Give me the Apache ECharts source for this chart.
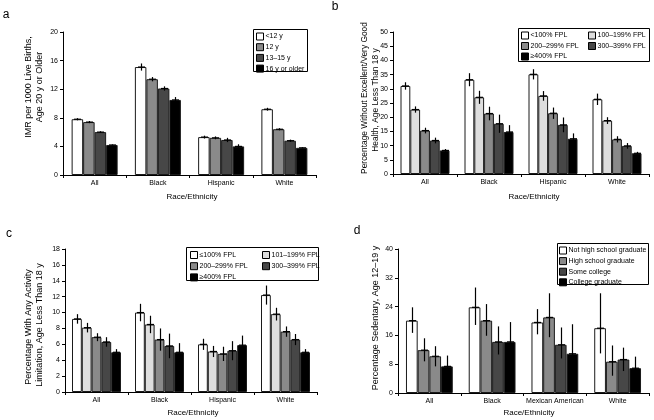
<!DOCTYPE html>
<html><head><meta charset="utf-8">
<script src="https://cdn.jsdelivr.net/npm/echarts@6/dist/echarts.min.js"></script>
<style>html,body{margin:0;padding:0;background:#fff}#c{width:654px;height:420px}</style>
</head><body><div id="c"></div>
<script>
// ---------- Panel a ----------
const catsA = ['All','Black','Hispanic','White'];
const namesA = ['<12 y','12 y','13–15 y','16 y or older'];
const valA = [[7.8,15.1,5.3,9.2],[7.4,13.4,5.2,6.4],[6.0,12.1,4.9,4.8],[4.2,10.5,4.0,3.8]];
const errA = [[0.15,0.5,0.2,0.2],[0.15,0.3,0.2,0.15],[0.12,0.3,0.3,0.15],[0.08,0.4,0.3,0.08]];
// ---------- Panel b ----------
const catsB = ['All','Black','Hispanic','White'];
const namesB = ['<100% FPL','100–199% FPL','200–299% FPL','300–399% FPL','≥400% FPL'];
const valB = [[31.0,33.2,35.1,26.3],[22.7,27.0,27.5,18.8],[15.3,21.3,21.4,12.2],[11.8,17.7,17.3,9.9],[8.3,14.8,12.4,7.3]];
const errB = [[1.3,2.3,1.8,2.0],[1.1,2.3,1.7,1.2],[1.0,2.4,2.0,1.1],[1.0,3.2,2.6,1.0],[0.5,2.4,1.9,0.5]];
// ---------- Panel c ----------
const catsC = ['All','Black','Hispanic','White'];
const namesC = ['≤100% FPL','101–199% FPL','200–299% FPL','300–399% FPL','≥400% FPL'];
const valC = [[9.2,10.0,6.0,12.2],[8.1,8.5,5.1,9.8],[6.9,6.6,4.8,7.6],[6.3,5.8,5.2,6.6],[5.0,5.0,5.9,5.0]];
const errC = [[0.6,1.1,0.7,1.2],[0.6,1.1,0.7,0.8],[0.5,1.4,0.9,0.65],[0.6,1.55,1.2,0.7],[0.4,1.15,1.2,0.4]];
// ---------- Panel d ----------
const catsD = ['All','Black','Mexican American','White'];
const namesD = ['Not high school graduate','High school graduate','Some college','College graduate'];
const valD = [[20.1,23.8,19.6,18.0],[11.9,20.1,21.0,8.7],[10.2,14.2,13.4,9.3],[7.4,14.2,10.9,6.9]];
const lowD = [[16.7,18.9,16.3,11.0],[8.8,15.9,15.5,4.8],[7.4,10.7,9.6,6.1],[4.4,9.7,5.4,3.7]];
const highD = [[23.8,29.3,23.3,27.7],[15.2,24.7,27.7,13.2],[13.0,18.5,18.2,12.6],[10.4,19.7,19.1,10.1]];

const FF = "'Liberation Sans', Arial, sans-serif";
const C4 = ['#ffffff','#8a8a8a','#474747','#000000'];
const C5 = ['#ffffff','#dedede','#8a8a8a','#474747','#000000'];

const panels = [
  {cats:catsA, names:namesA, colors:C4, vals:valA,
   lows:valA.map((r,i)=>r.map((v,j)=>v-errA[i][j])), highs:valA.map((r,i)=>r.map((v,j)=>v+errA[i][j])),
   grid:{left:63,top:32,width:253,height:143}, max:20, interval:4, bw:11.5},
  {cats:catsB, names:namesB, colors:C5, vals:valB,
   lows:valB.map((r,i)=>r.map((v,j)=>v-errB[i][j])), highs:valB.map((r,i)=>r.map((v,j)=>v+errB[i][j])),
   grid:{left:393,top:32,width:256,height:142}, max:50, interval:5, bw:9.8},
  {cats:catsC, names:namesC, colors:C5, vals:valC,
   lows:valC.map((r,i)=>r.map((v,j)=>v-errC[i][j])), highs:valC.map((r,i)=>r.map((v,j)=>v+errC[i][j])),
   grid:{left:65,top:249,width:252,height:143}, max:18, interval:2, bw:9.8},
  {cats:catsD, names:namesD, colors:C4, vals:valD, lows:lowD, highs:highD,
   grid:{left:398,top:249,width:251,height:144}, max:40, interval:8, bw:11.7,
   override:{series:2, cat:0, color:C4[1]}}
];

const grids=[], xAxes=[], yAxes=[], series=[];
panels.forEach((p,k)=>{
  grids.push(Object.assign({containLabel:false}, p.grid));
  xAxes.push({type:'category', gridIndex:k, data:p.cats,
    axisLine:{lineStyle:{color:'#000',width:1}},
    axisTick:{show:true,length:3,lineStyle:{color:'#000'}},
    axisLabel:{color:'#000',fontSize:7,margin:5,fontFamily:FF,interval:0,hideOverlap:false},
    splitLine:{show:false}});
  yAxes.push({type:'value', gridIndex:k, min:0, max:p.max, interval:p.interval,
    axisLine:{show:true,lineStyle:{color:'#000',width:1}},
    axisTick:{show:true,length:3,lineStyle:{color:'#000'}},
    axisLabel:{color:'#000',fontSize:7,margin:5,fontFamily:FF},
    splitLine:{show:false}});
  const n = p.names.length;
  p.names.forEach((nm,i)=>{
    series.push({type:'bar', name:nm, xAxisIndex:k, yAxisIndex:k,
      barWidth:p.bw, barGap:'0%', animation:false,
      itemStyle:{color:p.colors[i], borderColor:'#1a1a1a', borderWidth:1},
      data:p.vals[i].map((v,j)=>{
        if (p.override && p.override.series===i && p.override.cat===j)
          return {value:v, itemStyle:{color:p.override.color}};
        return v;
      })});
    const off = (i-(n-1)/2)*p.bw;
    series.push({type:'custom', name:'err'+k+'_'+i, xAxisIndex:k, yAxisIndex:k, z:5, animation:false,
      encode:{x:0,y:[1,2,3]},
      data:p.vals[i].map((v,j)=>[j,p.lows[i][j],p.highs[i][j],v]),
      renderItem:function(params,api){
        const c=api.value(0);
        const lo=api.coord([c,api.value(1)]);
        const hi=api.coord([c,api.value(2)]);
        const md=api.coord([c,api.value(3)]);
        const x=Math.round(lo[0]+off)+0.5;
        return {type:'group',children:[
          {type:'line',shape:{x1:x,y1:hi[1],x2:x,y2:lo[1]},style:{stroke:'#000',lineWidth:1.2}},
          {type:'line',shape:{x1:x-3.5,y1:md[1],x2:x+3.5,y2:md[1]},style:{stroke:'#000',lineWidth:1.2}}
        ]};
      }});
  });
});

function leg(data,left,top,gap){
  return {data:data, left:left, top:top, orient:'vertical', itemWidth:7, itemHeight:7, itemGap:gap,
    padding:0, selectedMode:false, icon:'rect',
    itemStyle:{borderColor:'#000',borderWidth:1},
    textStyle:{fontSize:7,color:'#000',fontFamily:FF,padding:[0,0,0,-3]}};
}
const legends = [
  leg(namesA,256,32.5,2.7),
  leg([namesB[0],namesB[2],namesB[4]],521,31.5,2.5),
  leg([namesB[1],namesB[3]],588,31.5,2.5),
  leg([namesC[0],namesC[2],namesC[4]],190,251,3.2),
  leg([namesC[1],namesC[3]],262,251,3.2),
  leg(namesD,559,246.5,2.6)
];

function box(x,y,w,h){return {type:'rect',shape:{x:x+0.5,y:y+0.5,width:w,height:h},style:{fill:null,stroke:'#000',lineWidth:1},z:10};}
function vtext(t,x,y,size){return {type:'text',x:x,y:y,rotation:Math.PI/2,style:{text:t,fontSize:size||9,fontFamily:FF,fill:'#000',textAlign:'center',textVerticalAlign:'middle'}};}
function htext(t,x,y,size){return {type:'text',x:x,y:y,style:{text:t,fontSize:size||8,fontFamily:FF,fill:'#000',textAlign:'center',textVerticalAlign:'middle'}};}

const graphics = [
  box(253,29,54,42), box(518,28,131,33), box(186,247,132,33), box(557,243,91,41),
  vtext('IMR per 1000 Live Births,',29,87), vtext('Age 20 y or Older',40,87),
  vtext('Percentage Without Excellent/Very Good',365,98,8.4), vtext('Health, Age Less Than 18 y',376,100,8.4),
  vtext('Percentage With Any Activity',29,327), vtext('Limitation, Age Less Than 18 y',40,325),
  vtext('Percentage Sedentary, Age 12–19 y',376,318),
  htext('Race/Ethnicity',192,197), htext('Race/Ethnicity',534,197),
  htext('Race/Ethnicity',193,413), htext('Race/Ethnicity',529,413),
  htext('a',6,15,12), htext('b',335,7,12), htext('c',9,234,12), htext('d',357,231,12)
];

const chart = echarts.init(document.getElementById('c'), null, {renderer:'canvas'});
chart.setOption({animation:false, backgroundColor:'#fff', textStyle:{fontFamily:FF},
  grid:grids, xAxis:xAxes, yAxis:yAxes, series:series, legend:legends, graphic:graphics});
</script></body></html>
